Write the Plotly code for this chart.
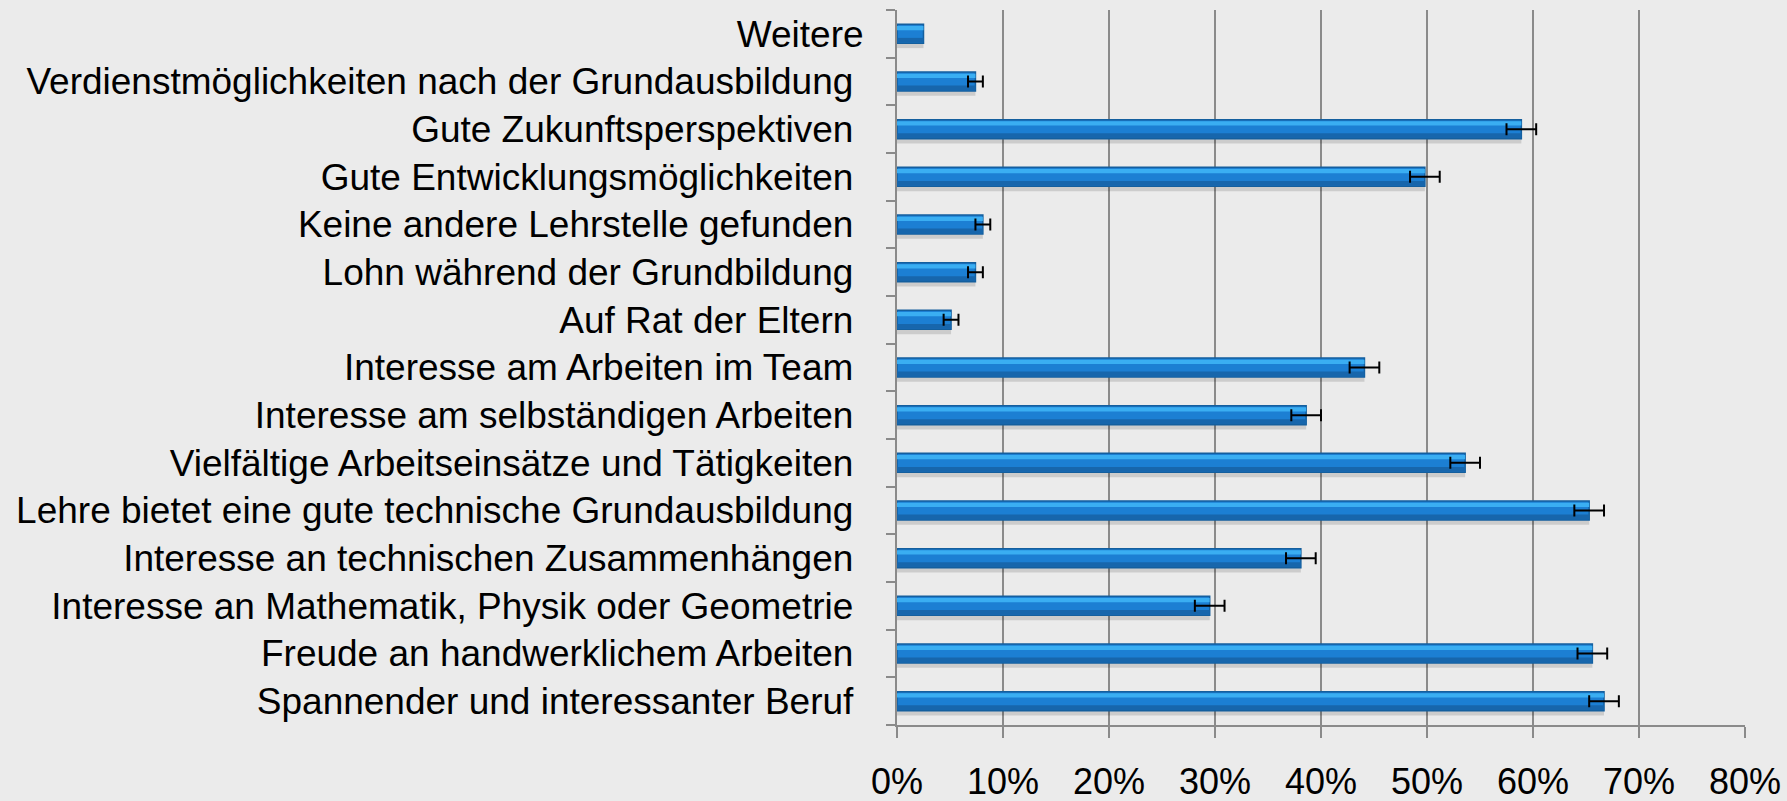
import plotly.graph_objects as go

categories = [
    "Weitere",
    "Verdienstmöglichkeiten nach der Grundausbildung",
    "Gute Zukunftsperspektiven",
    "Gute Entwicklungsmöglichkeiten",
    "Keine andere Lehrstelle gefunden",
    "Lohn während der Grundbildung",
    "Auf Rat der Eltern",
    "Interesse am Arbeiten im Team",
    "Interesse am selbständigen Arbeiten",
    "Vielfältige Arbeitseinsätze und Tätigkeiten",
    "Lehre bietet eine gute technische Grundausbildung",
    "Interesse an technischen Zusammenhängen",
    "Interesse an Mathematik, Physik oder Geometrie",
    "Freude an handwerklichem Arbeiten",
    "Spannender und interessanter Beruf",
]
values = [0.025, 0.074, 0.589, 0.498, 0.081, 0.074, 0.051, 0.441,
          0.386, 0.536, 0.653, 0.381, 0.295, 0.656, 0.667]
errors = [None, 0.007, 0.014, 0.014, 0.007, 0.007, 0.007, 0.014,
          0.014, 0.014, 0.014, 0.014, 0.014, 0.014, 0.014]
tick_vals = [0, 0.1, 0.2, 0.3, 0.4, 0.5, 0.6, 0.7, 0.8]
tick_text = ["0%", "10%", "20%", "30%", "40%", "50%", "60%", "70%", "80%"]

# the original labels (all but "Weitere") carry a trailing space
y_labels = [c if c == "Weitere" else c + "\u00a0" for c in categories]

err_cats = [c for c, e in zip(categories, errors) if e is not None]
err_vals = [v for v, e in zip(values, errors) if e is not None]
err_arr = [e for e in errors if e is not None]

fig = go.Figure()
# soft shadow under each bar
fig.add_trace(go.Bar(
    x=values, y=categories, orientation="h", width=0.1, offset=0.2,
    marker=dict(color="rgba(0,0,0,0.13)", line=dict(width=0)),
    hoverinfo="skip", showlegend=False,
))
# main bar body
fig.add_trace(go.Bar(
    x=values, y=categories, orientation="h", width=0.4,
    marker=dict(color="#1C7FD3", line=dict(color="#145F9E", width=1.5)),
    hoverinfo="x+y", showlegend=False,
))
# light highlight stripe (bevel effect)
fig.add_trace(go.Bar(
    x=values, y=categories, orientation="h", width=0.09, offset=-0.165,
    marker=dict(color="#3AAEF2", line=dict(width=0)),
    hoverinfo="skip", showlegend=False,
))
# darker lower stripe
fig.add_trace(go.Bar(
    x=values, y=categories, orientation="h", width=0.1, offset=0.085,
    marker=dict(color="#1766AC", line=dict(width=0)),
    hoverinfo="skip", showlegend=False,
))
# error bars
fig.add_trace(go.Scatter(
    x=err_vals, y=err_cats, mode="markers",
    marker=dict(size=1, opacity=0),
    error_x=dict(type="data", array=err_arr, visible=True,
                 color="black", thickness=2, width=6),
    hoverinfo="skip", showlegend=False,
))

fig.update_layout(
    width=1787, height=801,
    margin=dict(l=897, r=42, t=10, b=76),
    paper_bgcolor="#EBEBEB", plot_bgcolor="#EBEBEB",
    barmode="overlay",
    font=dict(family="Liberation Sans, Arial, sans-serif", size=37, color="black"),
    xaxis=dict(
        range=[0, 0.8], tickvals=tick_vals, ticktext=tick_text,
        showgrid=True, gridcolor="#8A8A8A", gridwidth=1.5,
        showline=True, linecolor="#8A8A8A", linewidth=2,
        ticks="outside", ticklen=11, tickcolor="#8A8A8A", tickwidth=2,
        ticklabelstandoff=13, zeroline=False, automargin=False,
        tickfont=dict(size=36),
    ),
    yaxis=dict(
        categoryorder="array", categoryarray=categories,
        range=[len(categories) - 0.5, -0.5], automargin=False,
        tickmode="array", tickvals=categories, ticktext=y_labels,
        showline=True, linecolor="#8A8A8A", linewidth=2,
        ticks="outside", ticklen=9, tickcolor="#8A8A8A", tickwidth=2,
        tickson="boundaries", showgrid=False,
        ticklabelstandoff=24,
        tickfont=dict(size=37),
    ),
)

fig.write_html("out.html", config={"displayModeBar": False},
               post_script="document.body.style.margin='0';document.body.style.background='#EBEBEB';")
